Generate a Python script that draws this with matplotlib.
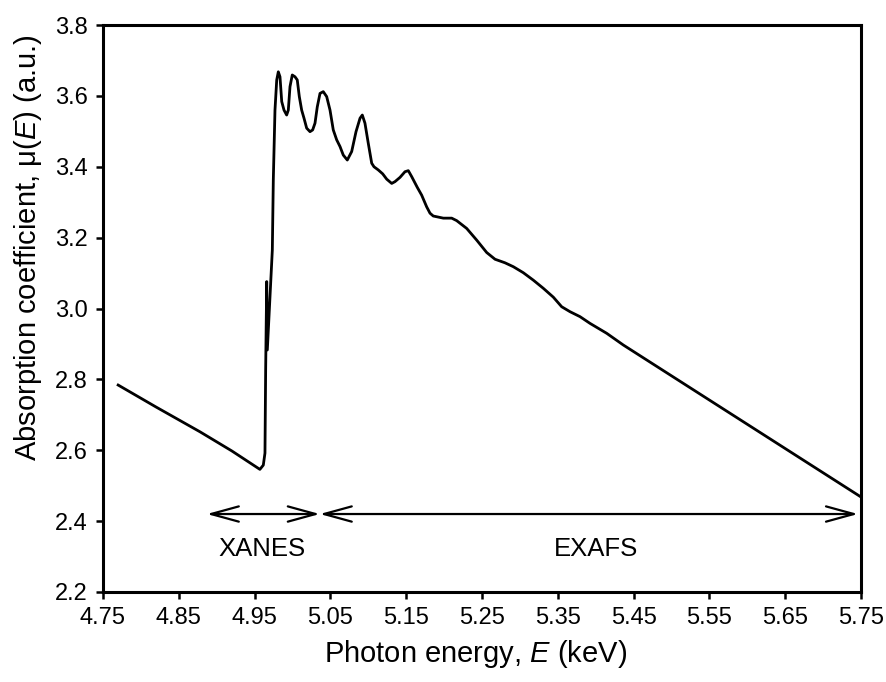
import matplotlib
matplotlib.use("Agg")
import matplotlib.pyplot as plt

plt.rcParams['font.family'] = ['Liberation Sans', 'DejaVu Sans']
plt.rcParams['mathtext.fontset'] = 'custom'
plt.rcParams['mathtext.rm'] = 'Liberation Sans'
plt.rcParams['mathtext.it'] = 'Liberation Sans:italic'

# spectrum (keV, a.u.)
energy = [4.770, 4.820, 4.878, 4.920, 4.957, 4.9615, 4.9637, 4.9646, 4.9660, 4.9668,
          4.9734, 4.9747, 4.9769, 4.9792, 4.9813, 4.9835, 4.9858, 4.9888, 4.9923, 4.9945,
          4.9967, 4.9997, 5.0033, 5.0063, 5.0090, 5.0121, 5.0152, 5.0187, 5.0231, 5.0266,
          5.0297, 5.0327, 5.0363, 5.0406, 5.0451, 5.0495, 5.0538, 5.0583, 5.0627, 5.0670,
          5.0723, 5.0781, 5.0838, 5.0891, 5.0921, 5.0956, 5.1000, 5.1045, 5.1075, 5.1132,
          5.1190, 5.1243, 5.1309, 5.1352, 5.1418, 5.1484, 5.1528, 5.1573, 5.1646, 5.1704,
          5.1770, 5.1814, 5.1857, 5.1990, 5.2100, 5.2166, 5.2298, 5.2430, 5.2562, 5.2672,
          5.2803, 5.2913, 5.3045, 5.3177, 5.3309, 5.3441, 5.3551, 5.3661, 5.3793, 5.3925,
          5.4145, 5.4364, 5.750]
mu = [2.784, 2.722, 2.652, 2.598, 2.546, 2.558, 2.592, 2.827, 3.076, 2.883,
      3.165, 3.363, 3.560, 3.645, 3.668, 3.654, 3.584, 3.560, 3.546, 3.560,
      3.626, 3.659, 3.654, 3.645, 3.598, 3.560, 3.537, 3.509, 3.499, 3.504,
      3.523, 3.569, 3.607, 3.612, 3.598, 3.560, 3.504, 3.476, 3.457, 3.433,
      3.419, 3.443, 3.499, 3.537, 3.546, 3.523, 3.466, 3.410, 3.400, 3.391,
      3.380, 3.365, 3.353, 3.358, 3.370, 3.386, 3.389, 3.372, 3.342, 3.320,
      3.287, 3.269, 3.261, 3.255, 3.255, 3.248, 3.226, 3.193, 3.158, 3.139,
      3.129, 3.118, 3.101, 3.080, 3.057, 3.032, 3.005, 2.991, 2.977, 2.958,
      2.930, 2.897, 2.468]

xticks = [4.75, 4.85, 4.95, 5.05, 5.15, 5.25, 5.35, 5.45, 5.55, 5.65, 5.75]
yticks = [2.2, 2.4, 2.6, 2.8, 3.0, 3.2, 3.4, 3.6, 3.8]

# region markers
arrow_y = 2.42
xanes_range = (4.887, 5.036)
exafs_range = (5.036, 5.746)

fig = plt.figure(figsize=(8.87, 6.82), dpi=100)
ax = fig.add_axes([0.1161, 0.1320, 0.8546, 0.8313])

ax.plot(energy, mu, color='black', lw=2.0, solid_joinstyle='round')

arrow_kw = dict(arrowstyle='<->,head_length=2.0,head_width=0.55', color='black', lw=1.6,
                shrinkA=0, shrinkB=0)
ax.annotate('', xy=(xanes_range[1], arrow_y), xytext=(xanes_range[0], arrow_y), arrowprops=arrow_kw)
ax.annotate('', xy=(exafs_range[1], arrow_y), xytext=(exafs_range[0], arrow_y), arrowprops=arrow_kw)
ax.text(4.96, 2.32, 'XANES', ha='center', va='center', fontsize=18.5)
ax.text(5.40, 2.32, 'EXAFS', ha='center', va='center', fontsize=18.5)

ax.set_xlim(4.75, 5.75)
ax.set_ylim(2.2, 3.8)
ax.set_xticks(xticks)
ax.set_yticks(yticks)
ax.set_xticklabels([f'{v:.2f}' for v in xticks])
ax.set_yticklabels([f'{v:.1f}' for v in yticks])
ax.tick_params(direction='out', length=5, width=1.8, labelsize=17, pad=6)

for s in ax.spines.values():
    s.set_linewidth(2.2)

ax.set_xlabel(r'Photon energy, $\mathit{E}$ (keV)', fontsize=21)
ax.set_ylabel(r'Absorption coefficient, μ($\mathit{E}$) (a.u.)', fontsize=21)
ax.xaxis.set_label_coords(0.491, -0.082)
ax.yaxis.set_label_coords(-0.078, 0.607)

fig.savefig('out.png', dpi=100)
